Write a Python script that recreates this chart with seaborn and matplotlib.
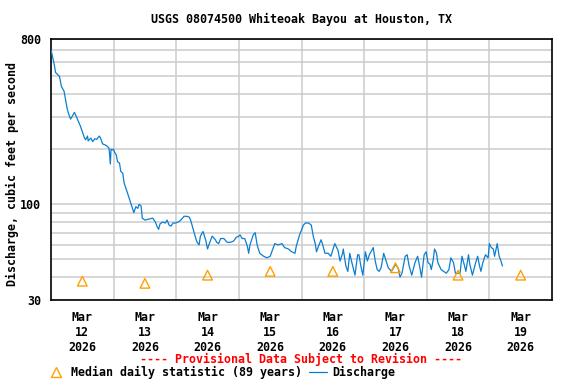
import pandas as pd
import numpy as np
import seaborn as sns
import matplotlib
matplotlib.use("Agg")
import matplotlib.pyplot as plt
from matplotlib.lines import Line2D


hours = [0, 1.25, 1.75, 3.25, 4, 5, 5.75, 6.25, 7, 7.5, 8, 9, 10, 11.25, 12.75, 13.25,
         14, 14.25, 15.25, 16, 16.75, 17.5, 18.5, 19, 19.75, 20.75, 21.5, 22.25, 22.75,
         23, 23.5, 24,
         24.25, 25, 25.5, 26.25, 26.75, 27.5, 28, 29.25, 30.5, 31.25, 31.75, 32.5, 33.25,
         33.75, 34.5, 35, 36, 37.5, 39, 40, 40.75, 41.25, 41.75, 42.75, 43.75, 44.5,
         45.25, 46, 46.75, 47.75, 48.75, 49.75, 51, 52, 53, 53.5,
         54.75, 55.5, 56, 56.75, 57.25, 58.25, 59.25, 60, 60.5, 61.75, 63, 63.5, 64.25,
         65, 66.25, 67.5, 68.75, 70, 71, 72, 72.5, 73.25, 74.25,
         75.25, 75.75, 76.25, 77.5, 78.25, 79, 80, 81.5, 82.75, 84, 85, 85.75, 87, 88.5,
         89.5, 91, 92.25, 93.5, 94, 95.25, 96.75, 97.5, 98.75, 99.75,
         100.5, 101.25, 101.75, 102.5, 103.5, 104, 105, 106.25, 107.25, 108.75, 110,
         110.75, 111.75, 112, 113, 113.75, 114.5, 115, 116.5, 117.5, 118, 118.75, 119.5,
         120.5, 121.25, 122, 123.5, 124.25, 125, 125.75, 126.5, 127.5, 128.25, 129.25,
         130.5, 132, 133, 133.75, 134.5, 135.75, 136.5, 137.25, 138.25, 139.5, 140.5,
         141.25, 142, 143, 143.75, 144.5, 145.25, 145.75, 146.5, 147, 147.75, 148.25,
         149.5, 150.5, 151.5, 152.5, 153.25, 154.25, 155, 156, 156.75, 157.5, 158.5, 159,
         160, 160.5, 161.5, 162.75, 163.5, 164.25, 164.75, 165.5, 166.5, 167.5, 168,
         168.75, 169.5, 170, 171, 171.75, 172.25, 173]
cfs = [700, 580, 525, 500, 440, 415, 362, 330, 305, 292, 300, 318, 295, 268, 232, 225,
       236, 222, 230, 220, 228, 226, 236, 230, 214, 211, 208, 202, 166,
       200, 198, 200,
       194, 186, 171, 168, 151, 148, 131, 116, 102, 94, 90, 97, 95,
       100, 98, 84, 82, 83, 84, 80, 75, 73, 78, 80, 79, 82,
       77, 76, 79, 79, 80, 82, 86, 86, 85, 82,
       71, 65, 62, 60, 67, 71, 64, 57, 60, 67, 64, 62, 61,
       65, 65, 62, 62, 63, 66, 67, 68, 65, 65,
       59, 54, 60, 68, 70, 60, 54, 52, 51, 52, 57, 61, 60, 61,
       58, 57, 55, 54, 59, 68, 77, 79, 79, 77,
       67, 61, 55, 59, 64, 61, 54, 54, 52, 61, 56,
       49, 54, 57, 46, 43, 54, 50, 41, 53, 53, 46, 41,
       55, 49, 53, 58, 49, 44, 43, 45, 54, 50, 45,
       43, 47, 45, 40, 42, 52, 53, 46, 41, 48, 52,
       46, 40, 53, 55, 48, 47, 44, 50, 57, 54, 48,
       44, 43, 42, 44, 51, 48, 42, 42, 42, 52, 46, 43,
       53, 47, 41, 48, 52, 46, 43, 48, 53, 51, 61,
       58, 57, 52, 61, 52, 50, 46]

# median daily statistic, one per day (plotted at noon)
median_days = ["2026-03-12", "2026-03-13", "2026-03-14", "2026-03-15",
               "2026-03-16", "2026-03-17", "2026-03-18", "2026-03-19"]
median_cfs = [38, 37, 41, 43, 43, 45, 41, 41]

start = pd.Timestamp("2026-03-12 00:00")
flow = pd.DataFrame({"time": start + pd.to_timedelta(hours, unit="h"), "cfs": cfs})
med = pd.DataFrame({"time": pd.to_datetime(median_days) + pd.Timedelta(hours=12),
                    "cfs": median_cfs})

sns.set_style("white")
plt.rcParams["font.family"] = ["DejaVu Sans Mono"]
plt.rcParams["font.weight"] = "bold"
plt.rcParams["text.color"] = "black"
plt.rcParams["xtick.color"] = "black"
plt.rcParams["ytick.color"] = "black"
fs = 8.4

fig, ax = plt.subplots(figsize=(5.76, 3.84), dpi=100)
fig.subplots_adjust(left=51/576, right=552/576, top=1-39/384, bottom=1-300/384)

blue = "#0a7fd0"
orange = "#ffa000"
sns.lineplot(data=flow, x="time", y="cfs", color=blue, lw=0.9, ax=ax, zorder=3)
sns.scatterplot(data=med, x="time", y="cfs", marker="^", s=48, facecolors="none",
                edgecolor=orange, linewidth=1.0, ax=ax, zorder=4)

ax.set_yscale("log")
ax.set_ylim(30, 800)
ax.set_xlim(start, start + pd.Timedelta(days=8))

ax.set_yticks([30, 100, 800])
ax.set_yticklabels(["30", "100", "800"])
ax.set_yticks([40, 50, 60, 70, 80, 90, 200, 300, 400, 500, 600, 700], minor=True)
ax.yaxis.set_minor_formatter(matplotlib.ticker.NullFormatter())

noons = pd.date_range("2026-03-12 12:00", periods=8, freq="D")
mids = pd.date_range("2026-03-13 00:00", periods=7, freq="D")
ax.set_xticks(noons)
ax.set_xticklabels([f"Mar\n{d.day}\n{d.year}" for d in noons], linespacing=1.17)
ax.set_xticks(mids, minor=True)

ax.grid(which="both", axis="y", color="#cccccc", lw=1.1)
ax.grid(which="minor", axis="x", color="#cccccc", lw=1.1)
ax.grid(which="major", axis="x", visible=False)
ax.tick_params(which="both", length=0, labelsize=fs, labelcolor="black")
ax.tick_params(axis="y", pad=7)
ax.tick_params(axis="x", pad=8)
for s in ax.spines.values():
    s.set_color("black")
    s.set_linewidth(1.2)
ax.set_xlabel("")
ax.set_ylabel("")

fig.text(301.5/576, 1-19/384, "USGS 08074500 Whiteoak Bayou at Houston, TX",
         ha="center", va="center", fontsize=fs, fontweight="bold", color="black")
fig.text(12/576, 1-174/384, "Discharge, cubic feet per second", rotation=90,
         ha="center", va="center", fontsize=fs, fontweight="bold", color="black")
fig.text(301.5/576, 1-359/384, "---- Provisional Data Subject to Revision ----",
         ha="center", va="center", fontsize=fs, fontweight="bold", color="red")

handles = [Line2D([], [], marker="^", ls="none", mfc="none", mec=orange, ms=7, mew=1.0),
           Line2D([], [], color=blue, lw=0.9)]
leg = fig.legend(handles, ["Median daily statistic (89 years)", "Discharge"],
                 loc="center left", bbox_to_anchor=(47/576, 1-372.5/384), ncol=2,
                 frameon=False, fontsize=fs, handlelength=1.55, handletextpad=0.47,
                 columnspacing=0.6, borderpad=0, borderaxespad=0)
for t in leg.get_texts():
    t.set_color("black")

fig.savefig("out.png", dpi=100)
